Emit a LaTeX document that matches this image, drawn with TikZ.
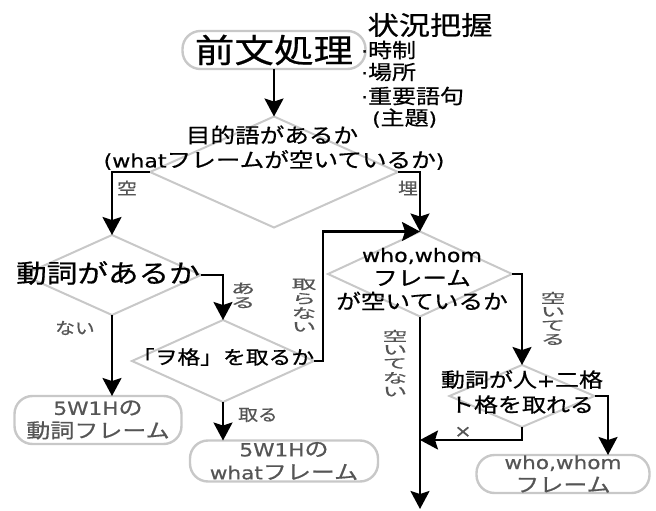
\documentclass[tikz,border=0pt]{standalone}
\usepackage{fontspec}
\setmainfont[FakeStretch=1.2,FakeBold=0.6]{Noto Sans CJK JP}
\newfontfamily\latf[Scale=0.9,FakeStretch=1.2,FakeBold=0.6]{DejaVu Sans}
\newcommand\LT[1]{{\latf #1}}
\newcommand\fsz[2]{\fontsize{#1}{#2}\selectfont}
\newcommand\vstack[1]{\scalebox{1}[0.66]{\begin{tabular}{@{}c@{}}#1\end{tabular}}}
\usetikzlibrary{arrows.meta,shapes.geometric,calc}
\definecolor{lg}{HTML}{C8C8C8}
\definecolor{tg}{HTML}{555555}
\begin{document}
\begin{tikzpicture}[x=1pt,y=-1pt,
  dia/.style={draw=lg,line width=2pt,shape=diamond,inner sep=0pt,outer sep=0pt},
  term/.style={draw=lg,line width=2.4pt,rectangle,rounded corners=18pt,inner sep=0pt,outer sep=0pt,text=tg,align=center,font=\fsz{20}{23}},
  arr/.style={line width=2.5pt,-{Stealth[length=18pt,width=19pt,inset=3pt]}},
  lbl/.style={text=tg,font=\fsz{16.5}{16.5},inner sep=0pt},
  vlbl/.style={text=tg,font=\fsz{20.5}{19.5},inner sep=0pt},
  txt/.style={inner sep=0pt,align=center}]
\useasboundingbox (0,0) rectangle (656,511);

% boxes
\node[term,minimum width=183pt,minimum height=38pt,text=black,font=\fsz{33}{33}] (b0) at (274,50) {前文処理};
\node[term,minimum width=167pt,minimum height=48pt] (b1) at (98,420) {\LT{5W1H}の\\動詞フレーム};
\node[term,minimum width=188pt,minimum height=41pt] (b2) at (284,461) {\LT{5W1H}の\\\LT{what}フレーム};
\node[term,minimum width=173pt,minimum height=38pt] (b3) at (563,474) {\LT{who,whom}\\フレーム};

% situation notes
\node[txt,font=\fsz{26}{26}] (s0) at (430,25) {状況把握};
\node[txt,anchor=west,font=\fsz{20}{20}] (s1) at (361,50) {\LT{·}時制};
\node[txt,anchor=west,font=\fsz{20}{20}] (s2) at (361,72) {\LT{·}場所};
\node[txt,anchor=west,font=\fsz{20}{20}] (s3) at (361,96) {\LT{·}重要語句};
\node[txt,anchor=west,font=\fsz{20}{20}] (s4) at (372,118) {\LT{(}主題\LT{)}};

% diamonds
\node[dia,minimum width=248pt,minimum height=111pt] (d1) at (274,172) {};
\node[dia,minimum width=178pt,minimum height=80pt] (d2) at (112,275) {};
\node[dia,minimum width=182pt,minimum height=82pt] (d3) at (223,361) {};
\node[dia,minimum width=184pt,minimum height=85pt] (d4) at (420,274) {};
\node[dia,minimum width=145pt,minimum height=62pt] (d5) at (522,396) {};

% diamond texts
\node[txt,font=\fsz{20.5}{20.5}] (t1a) at (272,135) {目的語があるか};
\node[txt,font=\fsz{20.5}{20.5}] (t1b) at (274,160) {\LT{(what}フレームが空いているか\LT{)}};
\node[txt,font=\fsz{25.5}{25.5}] (t2) at (108,273) {動詞があるか};
\node[txt,font=\fsz{19}{19}] (t3) at (223,357) {「ヲ格」を取るか};
\node[txt,font=\fsz{20.5}{23.5}] (t4) at (422,279) {\LT{who,whom}\\フレーム\\が空いているか};
\node[txt,font=\fsz{20}{25}] (t5) at (522,392) {動詞が人\LT{+}二格\\ト格を取れる};

% connectors
\coordinate (j) at (420,440);
\coordinate (e) at (420,509);
\coordinate (k) at ($(b3.north)+(45,0)$);
\draw[arr] (b0.south) -- (d1.north);
\draw[arr] (d1.west) -| (d2.north);
\draw[arr] (d1.east) -| (d4.north);
\draw[arr] (d2.east) -| (d3.north);
\draw[arr] (d2.south) -- (d2.south |- b1.north);
\draw[arr] (d3.south) -- (d3.south |- b2.north);
\draw[arr] (d3.east) -- ++(9,0) |- (d4.north);
\draw[arr] (d4.east) -| (d5.north);
\draw[arr] (d4.south) -- (e);
\draw[arr] (d5.south) |- (j);
\draw[arr] (d5.east) -| (k);

% labels
\node[lbl] (l1) at (127,188) {空};
\node[lbl] (l2) at (408,188) {埋};
\node[lbl] (l3) at (75,328) {ない};
\node[lbl] (l4) at (258,415) {取る};
\node[lbl,font=\fsz{19}{19}] (l5) at (463,432) {\LT{×}};
\node[vlbl] (v1) at (243,297) {\vstack{あ\\る}};
\node[vlbl] (v2) at (304,307) {\vstack{取\\ら\\な\\い}};
\node[vlbl] (v3) at (553,320) {\vstack{空\\い\\て\\る}};
\node[vlbl] (v4) at (395,365) {\vstack{空\\い\\て\\な\\い}};
\end{tikzpicture}
\end{document}
